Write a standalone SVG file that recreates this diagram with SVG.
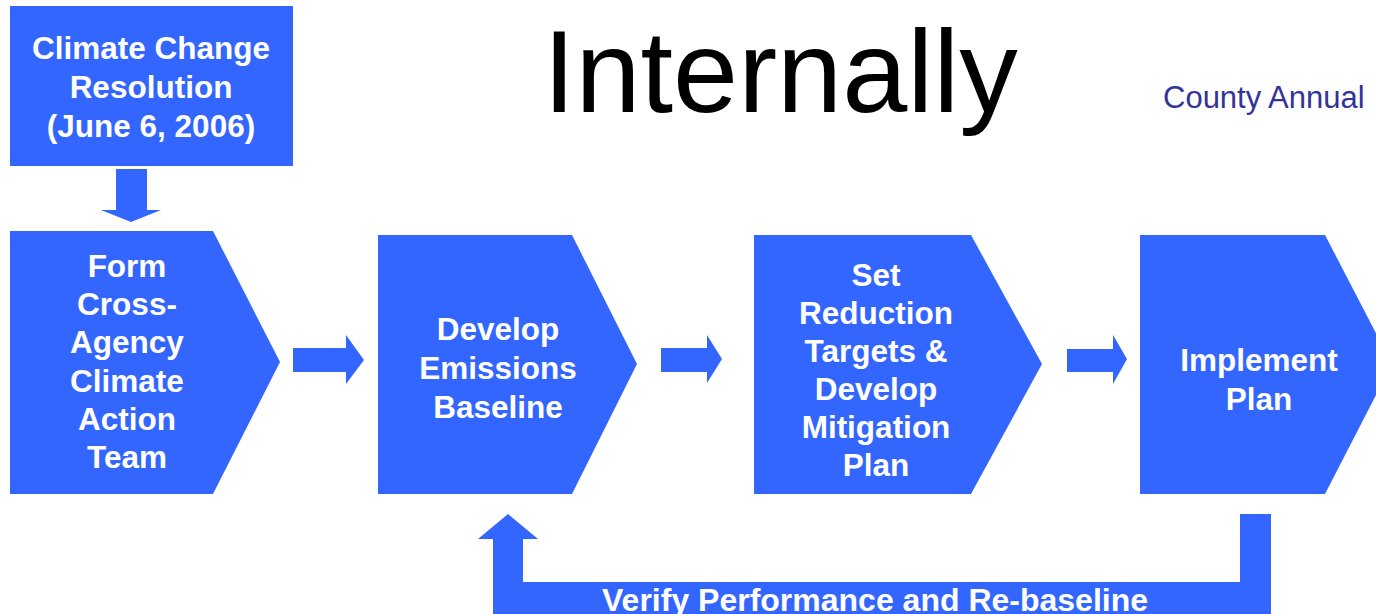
<svg xmlns="http://www.w3.org/2000/svg" width="1376" height="614" viewBox="0 0 1376 614">
<style>
.shape{fill:#3366FF;}
.lbl{font-family:"Liberation Sans",Arial,sans-serif;font-weight:bold;font-size:31.5px;fill:#FFFFFF;text-anchor:middle;}
.title{font-family:"Liberation Sans",Arial,sans-serif;font-size:117px;fill:#000000;}
.note{font-family:"Liberation Sans",Arial,sans-serif;font-size:31px;fill:#333399;}
</style>
<rect width="1376" height="614" fill="#FFFFFF"/>
<text class="title" x="543" y="112">Internally</text>
<text class="note" x="1163" y="108">County Annual</text>

<g id="node-resolution">
<rect class="shape" x="10" y="6" width="283" height="160"/>
<text class="lbl" x="151" y="59">Climate Change</text>
<text class="lbl" x="151" y="98">Resolution</text>
<text class="lbl" x="151" y="137">(June 6, 2006)</text>
</g>

<g id="node-team">
<polygon class="shape" points="10,231 213,231 280,362 213,494 10,494"/>
<text class="lbl" x="127" y="277">Form</text>
<text class="lbl" x="127" y="315">Cross-</text>
<text class="lbl" x="127" y="353">Agency</text>
<text class="lbl" x="127" y="392">Climate</text>
<text class="lbl" x="127" y="430">Action</text>
<text class="lbl" x="127" y="468">Team</text>
</g>

<g id="node-baseline">
<polygon class="shape" points="378,235 572,235 637,364 572,494 378,494"/>
<text class="lbl" x="498" y="340">Develop</text>
<text class="lbl" x="498" y="379">Emissions</text>
<text class="lbl" x="498" y="418">Baseline</text>
</g>

<g id="node-targets">
<polygon class="shape" points="754,235 971,235 1042,364 971,494 754,494"/>
<text class="lbl" x="876" y="286">Set</text>
<text class="lbl" x="876" y="324">Reduction</text>
<text class="lbl" x="876" y="362">Targets &amp;</text>
<text class="lbl" x="876" y="400">Develop</text>
<text class="lbl" x="876" y="438">Mitigation</text>
<text class="lbl" x="876" y="476">Plan</text>
</g>

<g id="node-implement">
<polygon class="shape" points="1140,235 1325,235 1392,364 1325,494 1140,494"/>
<text class="lbl" x="1259" y="371">Implement</text>
<text class="lbl" x="1259" y="410">Plan</text>
</g>

<g id="connectors">
<polygon class="shape" points="116,169 147,169 147,210 161,210 131,222 101,210 116,210"/>
<polygon class="shape" points="293,348 346,348 346,335 364,360 346,384 346,372 293,372"/>
<polygon class="shape" points="661,348 707,348 707,335 722,359 707,383 707,372 661,372"/>
<polygon class="shape" points="1067,349 1113,349 1113,335 1127,359 1113,384 1113,372 1067,372"/>
<polygon class="shape" points="508,514 538,539 523,539 523,582 1240,582 1240,514 1271,514 1271,620 493,620 493,539 478,539"/>
<text class="lbl" x="875" y="611" style="font-size:32px">Verify Performance and Re-baseline</text>
</g>
</svg>
